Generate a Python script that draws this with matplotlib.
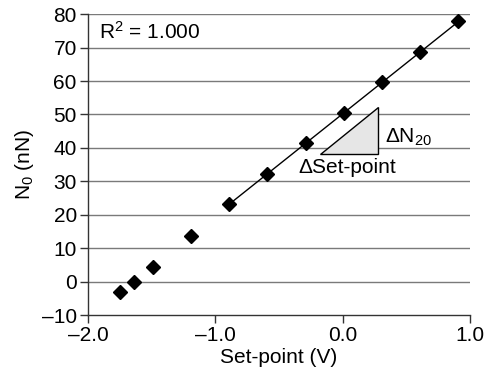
import numpy as np
import matplotlib.pyplot as plt
from matplotlib.patches import Polygon

plt.rcParams['font.family'] = ['Liberation Sans', 'DejaVu Sans']
plt.rcParams['mathtext.fontset'] = 'custom'
plt.rcParams['mathtext.rm'] = 'Liberation Sans'
plt.rcParams['mathtext.it'] = 'Liberation Sans'
plt.rcParams['mathtext.default'] = 'rm'

# data
setpoint = [-1.75, -1.64, -1.49, -1.19, -0.89, -0.59, -0.29, 0.01, 0.31, 0.61, 0.91]
n0 = [-3.1, 0.0, 4.5, 13.7, 23.3, 32.2, 41.4, 50.3, 59.6, 68.6, 77.9]
fit_start = 4  # linear fit over the upper points

fs = 15

fig = plt.figure(figsize=(4.91, 3.82), dpi=100)
ax = fig.add_axes([0.179, 0.175, 0.778, 0.788])

for y in range(0, 90, 10):
    ax.axhline(y, color='#7a7a7a', lw=1.0, zorder=1)

xf = np.array(setpoint[fit_start:])
yf = np.array(n0[fit_start:])
k, b = np.polyfit(xf, yf, 1)
ax.plot([xf[0], xf[-1]], [k * xf[0] + b, k * xf[-1] + b], color='black', lw=1.0, zorder=2)

ax.plot(setpoint, n0, linestyle='none', marker='D', markersize=7,
        color='black', zorder=3)

tri = Polygon([[-0.18, 38.1], [0.28, 38.1], [0.28, 52.2]], closed=True,
              facecolor='#e6e6e6', edgecolor='black', lw=1.0, zorder=2)
ax.add_patch(tri)
ax.text(0.33, 43.3, '\u0394N$_{20}$', fontsize=fs, va='center', ha='left')
ax.text(-0.345, 34.0, '\u0394Set-point', fontsize=fs, va='center', ha='left')
ax.text(-1.91, 74.8, 'R$^2$ = 1.000', fontsize=fs, va='center', ha='left')

ax.set_xlim(-2, 1)
ax.set_ylim(-10, 80)
ax.set_xticks([-2, -1, 0, 1])
ax.set_xticklabels(['\u20132.0', '\u20131.0', '0.0', '1.0'])
ax.set_yticks(range(-10, 90, 10))
ax.set_yticklabels(['\u201310'] + [str(v) for v in range(0, 90, 10)])
ax.tick_params(labelsize=fs, direction='out', length=6, width=1, color='#333333', pad=2)
for s in ['top', 'right']:
    ax.spines[s].set_visible(False)
for s in ['left', 'bottom']:
    ax.spines[s].set_linewidth(1.0)
    ax.spines[s].set_color('#333333')

ax.set_xlabel('Set-point (V)', fontsize=fs, labelpad=2)
ax.set_ylabel('N$_0$ (nN)', fontsize=fs, labelpad=4)

fig.savefig('out.png', dpi=100)
